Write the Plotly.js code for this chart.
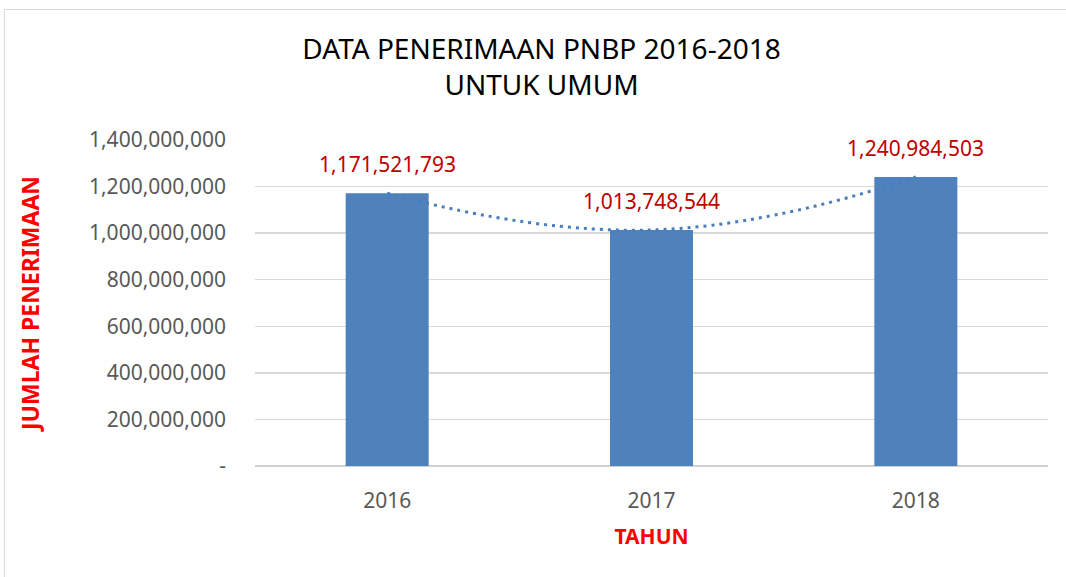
<!DOCTYPE html>
<html><head><meta charset="utf-8">
<script src="https://cdn.plot.ly/plotly-3.0.1.min.js"></script>
<style>
html,body{margin:0;padding:0;background:#fff;}
#wrap{position:relative;width:1066px;height:577px;overflow:hidden;}
#chart{width:1066px;height:577px;}
#frame{position:absolute;left:4px;top:9px;width:1100px;height:600px;border-left:1.5px solid #D9D9D9;border-top:1.5px solid #D9D9D9;pointer-events:none;}
</style></head>
<body><div id="wrap"><div id="chart"></div><div id="frame"></div></div>
<script>
const years = [2016, 2017, 2018];
const revenue = [1171521793, 1013748544, 1240984503];
const tickValues = [0, 200000000, 400000000, 600000000, 800000000, 1000000000, 1200000000, 1400000000];
const tickLabels = ['-', '200,000,000', '400,000,000', '600,000,000', '800,000,000', '1,000,000,000', '1,200,000,000', '1,400,000,000'];

const fmt = v => v.toLocaleString('en-US');
const FONT = 'Noto Sans, Open Sans, sans-serif';

const bars = {
  type: 'bar', x: years, y: revenue,
  marker: {color: '#4F81BD'}, hoverinfo: 'skip', showlegend: false
};
const trend = {
  type: 'scatter', mode: 'lines', x: years, y: revenue,
  line: {color: '#4A7EBB', width: 3, dash: '3px,5px', shape: 'spline', smoothing: 1.3},
  hoverinfo: 'skip', showlegend: false
};
const labels = years.map((yr, i) => ({
  x: yr, y: revenue[i], xref: 'x', yref: 'y', text: fmt(revenue[i]),
  showarrow: false, yanchor: 'bottom', yshift: 13,
  font: {family: FONT, size: 21, color: '#C00000'}
}));

const layout = {
  width: 1066, height: 577,
  margin: {l: 255, r: 18, t: 140, b: 111},
  paper_bgcolor: '#fff', plot_bgcolor: '#fff',
  bargap: 0.686,
  title: {text: 'DATA PENERIMAAN PNBP 2016-2018<br>UNTUK UMUM', x: 0.508, xanchor: 'center', y: 0.898, yanchor: 'top',
    font: {family: FONT, size: 28, color: '#000'}},
  xaxis: {range: [2015.5, 2018.5], tickvals: years, ticktext: years.map(String),
    showgrid: false, zeroline: false, showline: false, ticks: '',
    ticklabelstandoff: 20,
    tickfont: {family: FONT, size: 21, color: '#595959'},
    title: {text: 'TAHUN', standoff: 16, font: {family: FONT, size: 21, color: '#FF0000', weight: 'bold'}}},
  yaxis: {range: [0, 1400000000], tickvals: tickValues, ticktext: tickLabels,
    showgrid: true, gridcolor: '#D9D9D9', gridwidth: 1.3, zeroline: true, zerolinecolor: '#D0D0D0', zerolinewidth: 2,
    showline: false, ticks: '', ticklabelstandoff: 28,
    tickfont: {family: FONT, size: 21, color: '#595959'},
    title: {text: 'JUMLAH PENERIMAAN', standoff: 42, font: {family: FONT, size: 23, color: '#FF0000', weight: 'bold'}}},
  annotations: labels,
  showlegend: false
};
Plotly.newPlot('chart', [bars, trend], layout, {displayModeBar: false, staticPlot: true});
</script></body></html>
